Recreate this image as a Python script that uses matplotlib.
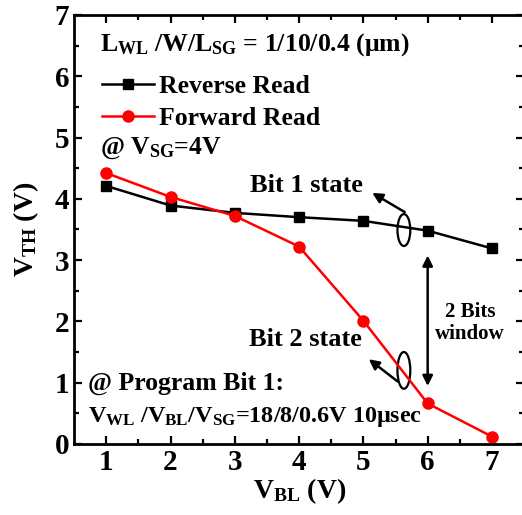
import matplotlib.pyplot as plt
from matplotlib.patches import Ellipse

plt.rcParams['font.family'] = ['Liberation Serif', 'DejaVu Serif']
plt.rcParams['font.weight'] = 'bold'
plt.rcParams['axes.labelweight'] = 'bold'
plt.rcParams['mathtext.fontset'] = 'custom'
plt.rcParams['mathtext.rm'] = 'Liberation Serif:bold'
plt.rcParams['mathtext.it'] = 'Liberation Serif:bold'
plt.rcParams['mathtext.bf'] = 'Liberation Serif:bold'

# data
v_bl = [1, 2, 3, 4, 5, 6, 7]
reverse_read = [4.21, 3.89, 3.77, 3.70, 3.64, 3.48, 3.19]
forward_read = [4.42, 4.03, 3.72, 3.22, 2.01, 0.66, 0.12]

fig = plt.figure(figsize=(5.22, 5.15), dpi=100)
ax = fig.add_axes([0.142, 0.138, 0.862, 0.833])

ax.plot(v_bl, reverse_read, color='black', lw=1.8, marker='s', ms=7,
        label='Reverse Read')
ax.plot(v_bl, forward_read, color='#ff0000', lw=1.8, marker='o', ms=8,
        label='Forward Read')

ax.set_xlim(0.5, 7.5)
ax.set_ylim(0, 7)
ax.set_xticks(v_bl)
ax.set_xticks([1.5, 2.5, 3.5, 4.5, 5.5, 6.5], minor=True)
ax.set_yticks(range(8))
ax.set_yticks([0.5, 1.5, 2.5, 3.5, 4.5, 5.5, 6.5], minor=True)
ax.tick_params(which='both', direction='in', top=True, right=True,
               width=1.6, labelsize=21)
ax.tick_params(which='major', length=6)
ax.tick_params(which='minor', length=3.5)
for s in ax.spines.values():
    s.set_linewidth(2)

ax.set_xlabel(r'$\mathrm{V_{BL}}$ (V)', fontsize=20, labelpad=0)
ax.set_ylabel(r'$\mathrm{V_{TH}}$ (V)', fontsize=20, labelpad=10)

leg = ax.legend(loc='upper left', bbox_to_anchor=(0.04, 0.885), frameon=False,
                fontsize=18.5, handlelength=2.0, handletextpad=0.2,
                labelspacing=0.38, borderaxespad=0)

ax.text(0.9, 6.51, r'$\mathrm{L_{WL}}$ /W/$\mathrm{L_{SG}}$ = 1/10/0.4 (μm)',
        fontsize=18.5, va='center')
ax.text(0.9, 4.82, r'@ $\mathrm{V_{SG}}$=4V', fontsize=18.5, va='center')

# Bit 1 state
ax.add_patch(Ellipse((5.63, 3.49), 0.2, 0.52, fill=False, lw=1.6))
ax.annotate('', xy=(5.1, 4.12), xytext=(5.68, 3.76),
            arrowprops=dict(arrowstyle='-|>', color='black', lw=1.8,
                            mutation_scale=15))
ax.text(4.12, 4.22, 'Bit 1 state', fontsize=19, ha='center', va='center')

# Bit 2 state
ax.add_patch(Ellipse((5.63, 1.2), 0.2, 0.6, fill=False, lw=1.6))
ax.annotate('', xy=(5.05, 1.41), xytext=(5.57, 0.99),
            arrowprops=dict(arrowstyle='-|>', color='black', lw=1.8,
                            mutation_scale=15))
ax.text(4.1, 1.71, 'Bit 2 state', fontsize=19, ha='center', va='center')

# 2 Bits window
ax.annotate('', xy=(6.0, 0.9), xytext=(6.0, 3.12),
            arrowprops=dict(arrowstyle='<|-|>', color='black', lw=1.8,
                            mutation_scale=15))
ax.text(6.66, 2.15, '2 Bits', fontsize=15, ha='center', va='center')
ax.text(6.66, 1.8, 'window', fontsize=15, ha='center', va='center')

ax.text(0.72, 0.99, '@ Program Bit 1:', fontsize=18.5, va='center')
ax.text(0.72, 0.44,
        r'$\mathrm{V_{WL}}$ /$\mathrm{V_{BL}}$/$\mathrm{V_{SG}}$=18/8/0.6V 10μsec',
        fontsize=17.4, va='center')

fig.savefig('out.png', dpi=100)
